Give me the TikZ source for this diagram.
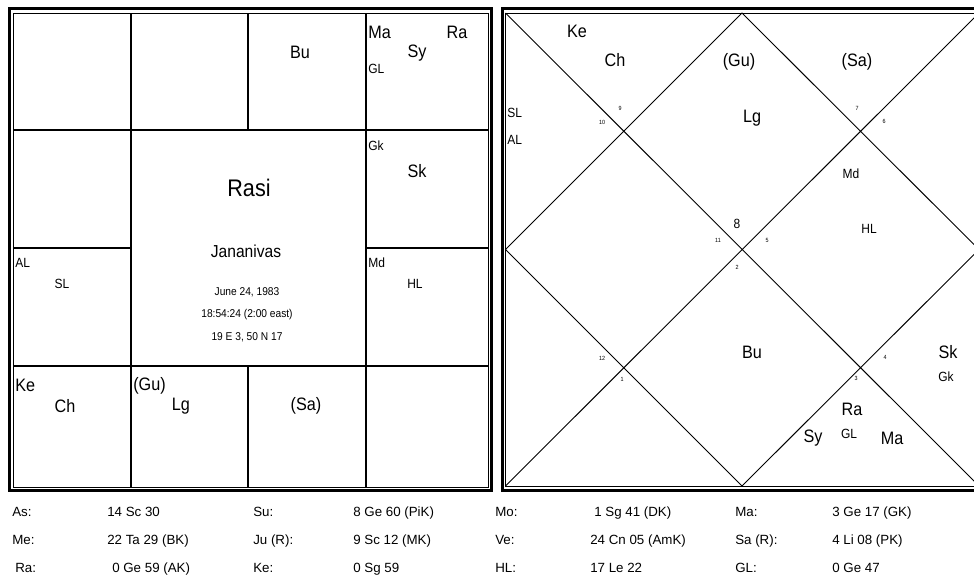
\documentclass[tikz,border=0pt]{standalone}
\usepackage{fontspec}
\setmainfont{Liberation Sans}
\newfontfamily\chartfont{Liberation Sans}[FakeStretch=0.9]
\usetikzlibrary{positioning}

\begin{document}
\begin{tikzpicture}[x=0.75pt,y=-0.75pt,
  frame/.style={line width=2.2pt},
  inner/.style={line width=0.75pt},
  grid/.style={line width=0.8pt},
  diag/.style={line width=0.7pt},
  planet/.style={font=\chartfont\fontsize{13.5}{15}\selectfont,inner sep=0pt},
  lbl/.style={font=\chartfont\fontsize{10}{11}\selectfont,inner sep=0pt},
  signno/.style={font=\chartfont\fontsize{4.5}{5}\selectfont,inner sep=0pt},
  info/.style={font=\chartfont\fontsize{8.5}{9}\selectfont,inner sep=0pt},
  tbl/.style={font=\fontsize{10}{12}\selectfont,anchor=base west,inner sep=0pt}
]
\useasboundingbox (0,0) rectangle (974,579);
\clip (0,0) rectangle (974,579);
\fill[white] (0,0) rectangle (974,579);

% rasi (south)
\def\xl{13}\def\xa{131}\def\xb{248}\def\xc{366}\def\xr{488}
\def\yt{13}\def\ya{130}\def\yb{248}\def\yc{366}\def\yd{487}
\draw[frame] (9.5,8.5) rectangle (491.5,490.5);
\draw[inner] (\xl,\yt) rectangle (\xr,\yd);
\draw[grid] (\xl,\ya) -- (\xr,\ya) (\xl,\yc) -- (\xr,\yc)
  (\xa,\yt) -- (\xa,\yd) (\xc,\yt) -- (\xc,\yd)
  (\xb,\yt) -- (\xb,\ya) (\xb,\yc) -- (\xb,\yd)
  (\xl,\yb) -- (\xa,\yb) (\xc,\yb) -- (\xr,\yb);

\node[planet] (lbu) at (300,52) {Bu};
\node[planet,anchor=west] (lma) at (368,32) {Ma};
\node[planet] (lra) at (457,32) {Ra};
\node[planet] (lsy) at (417,53) {Sy};
\node[lbl,anchor=west] (lgl) at (368,69) {GL};
\node[lbl,anchor=west] (lgk) at (368,146) {Gk};
\node[planet] (lsk) at (417,171) {Sk};
\node[font=\chartfont\fontsize{18}{20}\selectfont,inner sep=0pt] (rasi) at (249,188) {Rasi};
\node[font=\chartfont\fontsize{13}{15}\selectfont,inner sep=0pt] (who) at (246,251) {Jananivas};
\node[info] (date) at (247,292) {June 24, 1983};
\node[info] (time) at (247,315) {18:54:24 (2:00 east)};
\node[info] (place) at (247,337) {19 E 3, 50 N 17};
\node[lbl,anchor=west] (lal) at (15,263) {AL};
\node[lbl] (lsl) at (62,284) {SL};
\node[lbl,anchor=west] (lmd) at (368,263) {Md};
\node[lbl] (lhl) at (415,284) {HL};
\node[planet,anchor=west] (lke) at (15,385) {Ke};
\node[planet] (lch) at (65,406) {Ch};
\node[planet,anchor=west] (lgu) at (133,386) {(Gu)};
\node[planet] (llg) at (181,406) {Lg};
\node[planet] (lsa) at (306,406) {(Sa)};

% bhava (north)
\def\rl{505.5}\def\rm{742}\def\rr{979}
\def\rt{13}\def\rc{249.5}\def\rd{486}
\draw[frame] (502.5,8.5) rectangle (984,490.5);
\draw[inner] (\rl,\rt) rectangle (\rr,\rd);
\coordinate (nw) at (\rl,\rt);
\coordinate (ne) at (\rr,\rt);
\coordinate (sw) at (\rl,\rd);
\coordinate (se) at (\rr,\rd);
\coordinate (n) at (\rm,\rt);
\coordinate (e) at (\rr,\rc);
\coordinate (s) at (\rm,\rd);
\coordinate (w) at (\rl,\rc);
\draw[diag] (nw) -- (se) (sw) -- (ne) (n) -- (e) -- (s) -- (w) -- cycle;

\node[planet] (rke) at (577,31) {Ke};
\node[planet] (rch) at (615,60) {Ch};
\node[planet] (rgu) at (739,62) {(Gu)};
\node[planet] (rsa) at (857,62) {(Sa)};
\node[lbl,anchor=west] (rsl) at (507,113) {SL};
\node[lbl,anchor=west] (ral) at (507,140) {AL};
\node[planet] (rlg) at (752,118) {Lg};
\node[lbl] (rmd) at (851,174) {Md};
\node[lbl] (rhl) at (869,229) {HL};
\node[planet] (rbu) at (752,352) {Bu};
\node[planet] (rsk) at (948,352) {Sk};
\node[lbl] (rgk) at (946,377) {Gk};
\node[planet] (rra) at (852,409) {Ra};
\node[lbl] (rgl) at (849,434) {GL};
\node[planet] (rsy) at (813,438) {Sy};
\node[planet] (rma) at (892,438) {Ma};

\node[font=\chartfont\fontsize{10}{11}\selectfont,inner sep=0pt] (lagna) at (737,224) {8};
\foreach \n/\x/\y in {9/620/108,10/602/122,7/857/108,6/884/121,11/718/240,
    5/767/240,2/737/267,12/602/358,1/622/379,4/885/357,3/856/378}
  \node[signno] (sg\n) at (\x,\y) {\n};

% positions
\foreach \t/\x/\y [count=\i] in {
    As:/12/516, 14 Sc 30/107/516, Su:/253/516, 8 Ge 60 (PiK)/353/516,
    Mo:/495/516, 1 Sg 41 (DK)/594/516, Ma:/735/516, 3 Ge 17 (GK)/832/516,
    Me:/12/544, 22 Ta 29 (BK)/107/544, Ju (R):/253/544, 9 Sc 12 (MK)/353/544,
    Ve:/495/544, 24 Cn 05 (AmK)/590/544, Sa (R):/735/544, 4 Li 08 (PK)/832/544,
    Ra:/15/572, 0 Ge 59 (AK)/112/572, Ke:/253/572, 0 Sg 59/353/572,
    HL:/495/572, 17 Le 22/590/572, GL:/735/572, 0 Ge 47/832/572}
  \node[tbl] (tb\i) at (\x,\y) {\t};
\end{tikzpicture}
\end{document}
